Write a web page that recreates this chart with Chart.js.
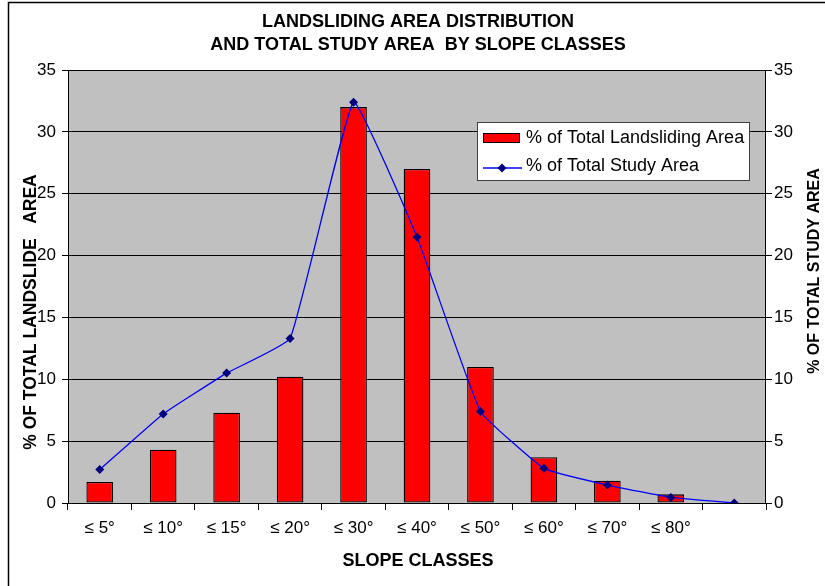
<!DOCTYPE html>
<html>
<head>
<meta charset="utf-8">
<script src="https://cdn.jsdelivr.net/npm/chart.js@4.4.1/dist/chart.umd.min.js"></script>
<style>
  html, body { margin: 0; padding: 0; background: #fff; }
  #wrap { width: 825px; height: 586px; }
</style>
</head>
<body>
<div id="wrap"><canvas id="c" width="825" height="586"></canvas></div>
<script>
// Slope classes (the last slot carries only the closing point of the line)
const categories = ['≤ 5°', '≤ 10°', '≤ 15°', '≤ 20°', '≤ 30°', '≤ 40°', '≤ 50°', '≤ 60°', '≤ 70°', '≤ 80°', ''];
// % of total landsliding area per class
const landslideArea = [1.7, 4.3, 7.3, 10.2, 32.0, 27.0, 11.0, 3.7, 1.8, 0.7, null];
// % of total study area per class
const studyArea = [2.7, 7.2, 10.5, 13.3, 32.4, 21.5, 7.4, 2.8, 1.45, 0.45, 0];
// shared value ticks for both vertical axes
const axisMin = 0;
const axisMax = 35;
const axisStep = 5;

const titleLines = ['LANDSLIDING AREA DISTRIBUTION', 'AND TOTAL STUDY AREA  BY SLOPE CLASSES'];
const xTitle = 'SLOPE CLASSES';
const yTitleLeft = '% OF TOTAL LANDSLIDE   AREA';
const yTitleRight = '% OF TOTAL STUDY AREA';

const FONT = "'Liberation Sans', Arial, sans-serif";

const decor = {
  id: 'decor',
  beforeDraw(chart) {
    const { ctx, chartArea: a } = chart;
    ctx.save();
    ctx.fillStyle = '#ffffff';
    ctx.fillRect(0, 0, chart.width, chart.height);
    ctx.fillStyle = '#c0c0c0';
    ctx.fillRect(a.left, a.top, a.right - a.left, a.bottom - a.top);
    ctx.restore();
  },
  afterDatasetsDraw(chart) {
    const { ctx, chartArea: a } = chart;
    ctx.save();
    // plot frame
    ctx.strokeStyle = '#000';
    ctx.lineWidth = 1;
    ctx.strokeRect(Math.round(a.left) + 0.5, Math.round(a.top) + 0.5,
                   Math.round(a.right - a.left) - 1, Math.round(a.bottom - a.top));

    // legend box
    const lx = 477, ly = 122, lw = 273, lh = 59;
    ctx.fillStyle = '#fff';
    ctx.fillRect(lx, ly, lw, lh);
    ctx.strokeStyle = '#404040';
    ctx.strokeRect(lx + 0.5, ly + 0.5, lw - 1, lh - 1);

    const ds = chart.data.datasets;
    ctx.font = '18px ' + FONT;
    ctx.textBaseline = 'middle';
    ctx.textAlign = 'left';

    // bar swatch
    ctx.fillStyle = ds[0].backgroundColor;
    ctx.fillRect(483, 133, 37, 10);
    ctx.strokeStyle = '#000';
    ctx.lineWidth = 1;
    ctx.strokeRect(483.5, 133.5, 36, 9);
    ctx.fillStyle = '#000';
    ctx.fillText(ds[0].label, 526, 138);

    // line swatch with marker
    ctx.strokeStyle = ds[1].borderColor;
    ctx.lineWidth = 1.3;
    ctx.beginPath();
    ctx.moveTo(483, 168);
    ctx.lineTo(522, 168);
    ctx.stroke();
    ctx.fillStyle = ds[1].pointBackgroundColor;
    ctx.beginPath();
    ctx.moveTo(502, 163.5);
    ctx.lineTo(506.5, 168);
    ctx.lineTo(502, 172.5);
    ctx.lineTo(497.5, 168);
    ctx.closePath();
    ctx.fill();
    ctx.fillStyle = '#000';
    ctx.fillText(ds[1].label, 526, 166);
    ctx.restore();
  },
  afterDraw(chart) {
    const { ctx } = chart;
    ctx.save();
    ctx.fillStyle = '#000';
    ctx.textAlign = 'center';
    ctx.textBaseline = 'middle';
    ctx.font = 'bold 18px ' + FONT;
    ctx.fillText(titleLines[0], 418, 22);
    ctx.fillText(titleLines[1], 418, 45.5);
    ctx.fillText(xTitle, 418, 561);

    ctx.save();
    ctx.font = 'bold 17.5px ' + FONT;
    ctx.translate(31, 312);
    ctx.rotate(-Math.PI / 2);
    ctx.fillText(yTitleLeft, 0, 0);
    ctx.restore();

    ctx.save();
    ctx.font = 'bold 16px ' + FONT;
    ctx.translate(815, 271);
    ctx.rotate(-Math.PI / 2);
    ctx.fillText(yTitleRight, 0, 0);
    ctx.restore();

    // outer chart border (left and top edges)
    ctx.strokeStyle = '#000';
    ctx.lineWidth = 1.5;
    ctx.beginPath();
    ctx.moveTo(8.5, 586);
    ctx.lineTo(8.5, 2.5);
    ctx.lineTo(825, 2.5);
    ctx.stroke();
    ctx.restore();
  }
};

const tickFont = { family: FONT, size: 17 };

new Chart(document.getElementById('c'), {
  type: 'bar',
  data: {
    labels: categories,
    datasets: [
      {
        type: 'bar',
        label: '% of Total Landsliding Area',
        data: landslideArea,
        backgroundColor: '#ff0000',
        borderColor: '#000000',
        borderWidth: 1.3,
        borderSkipped: false,
        barPercentage: 0.42,
        categoryPercentage: 1.0,
        yAxisID: 'y',
        order: 2
      },
      {
        type: 'line',
        label: '% of Total Study Area',
        data: studyArea,
        borderColor: '#0000ff',
        borderWidth: 1.3,
        tension: 0.1,
        pointStyle: 'rectRot',
        pointRadius: 4.5,
        pointBackgroundColor: '#000080',
        pointBorderColor: '#000080',
        pointBorderWidth: 0,
        fill: false,
        yAxisID: 'y2',
        order: 1
      }
    ]
  },
  options: {
    responsive: false,
    animation: false,
    devicePixelRatio: 1,
    layout: { padding: { top: 70, left: 0, right: 0, bottom: 0 } },
    plugins: {
      legend: { display: false },
      title: { display: false },
      tooltip: { enabled: false }
    },
    scales: {
      x: {
        type: 'category',
        offset: true,
        border: { display: false },
        grid: { offset: true, drawOnChartArea: false, drawTicks: true, tickLength: 7, color: '#000', lineWidth: 1 },
        ticks: { color: '#000', font: tickFont, padding: 8, maxRotation: 0, autoSkip: false },
        afterFit(s) { s.height = 83; }
      },
      y: {
        position: 'left',
        min: axisMin,
        max: axisMax,
        border: { display: false },
        grid: { color: '#000', lineWidth: 1, tickLength: 6 },
        ticks: { stepSize: axisStep, color: '#000', font: tickFont, padding: 6 },
        afterFit(s) { s.width = 68; }
      },
      y2: {
        position: 'right',
        min: axisMin,
        max: axisMax,
        border: { display: false },
        grid: { drawOnChartArea: false, color: '#000', lineWidth: 1, tickLength: 6 },
        ticks: { stepSize: axisStep, color: '#000', font: tickFont, padding: 2 },
        afterFit(s) { s.width = 59; }
      }
    }
  },
  plugins: [decor]
});
</script>
</body>
</html>
